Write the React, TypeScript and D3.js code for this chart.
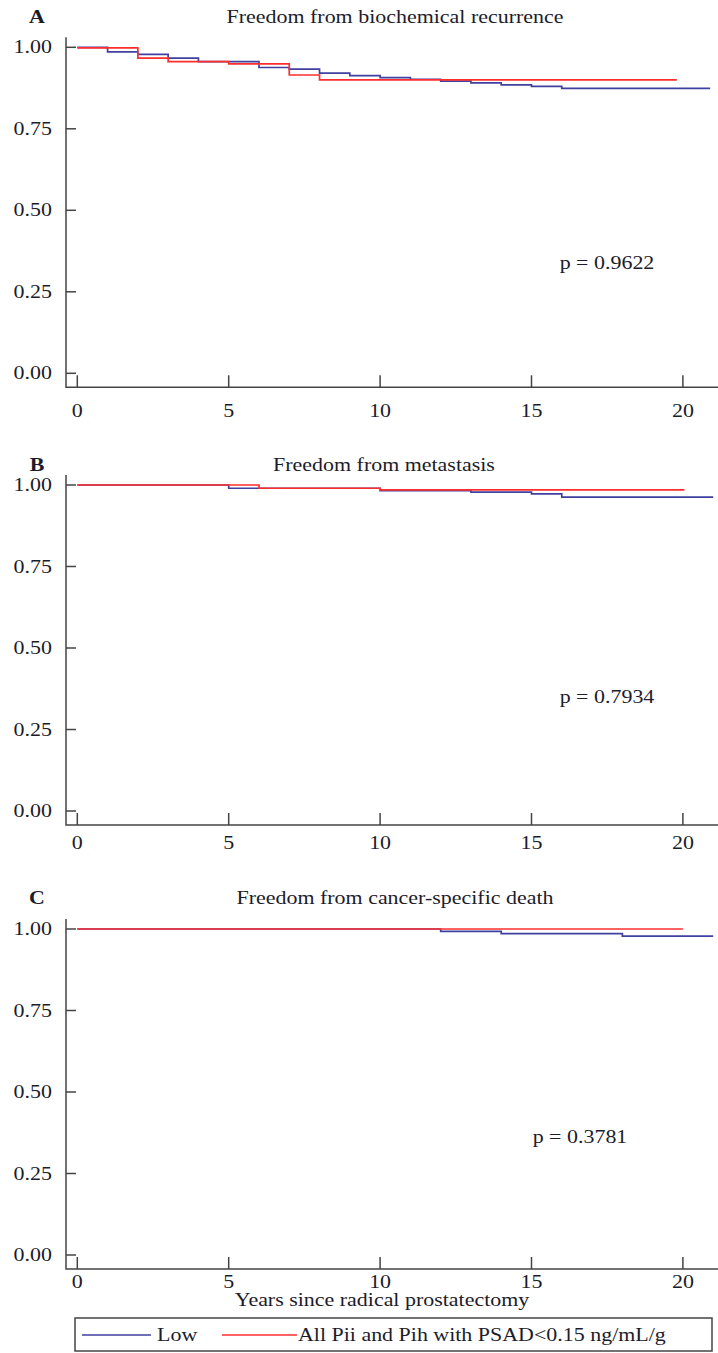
import React from "react";
import * as d3 from "d3";

const xTickValues = [0, 5, 10, 15, 20];
const yTickValues = [0, 0.25, 0.5, 0.75, 1];
const yTickLabels = ["0.00", "0.25", "0.50", "0.75", "1.00"];

// Panel A: biochemical recurrence
const bcrLowTimes = [0, 1, 2, 3, 4, 6, 7, 8, 9, 10, 11, 12, 13, 14, 15, 16, 20.9];
const bcrLowSurv = [1, 0.986, 0.978, 0.967, 0.956, 0.938, 0.933, 0.921, 0.913, 0.907, 0.902, 0.896, 0.891, 0.885, 0.88, 0.874, 0.874];
const bcrPiiTimes = [0, 2, 3, 5, 7, 8, 19.8];
const bcrPiiSurv = [0.998, 0.967, 0.956, 0.949, 0.915, 0.9, 0.9];

// Panel B: metastasis
const metLowTimes = [0, 5, 10, 13, 15, 16, 21.0];
const metLowSurv = [1, 0.99, 0.983, 0.978, 0.973, 0.963, 0.963];
const metPiiTimes = [0, 6, 10, 20.05];
const metPiiSurv = [1, 0.99, 0.985, 0.985];

// Panel C: cancer-specific death
const cssLowTimes = [0, 12, 14, 18, 21.0];
const cssLowSurv = [1, 0.993, 0.986, 0.978, 0.978];
const cssPiiTimes = [0, 20];
const cssPiiSurv = [1, 1];

const titles = ["Freedom from biochemical recurrence", "Freedom from metastasis", "Freedom from cancer-specific death"];
const letters = ["A", "B", "C"];
const pValues = ["p = 0.9622", "p = 0.7934", "p = 0.3781"];
const legendLabels = ["Low", "All Pii and Pih with PSAD<0.15 ng/mL/g"];

const BLUE = "#4040a0";
const RED = "#ff2e2e";
const AXIS = "#444";
const TEXT = "#1c1c2a";
const FONT = "'Liberation Serif', 'DejaVu Serif', serif";
const FS = 18;
const SX = 1.22;

const layout = [
  { top: 47.3, bottom: 373.3, titleY: 17, titleX: 395, pX: 607, pY: 263, xlabY: 411 },
  { top: 485, bottom: 811, titleY: 465, titleX: 384, pX: 607, pY: 697, xlabY: 843 },
  { top: 929, bottom: 1255, titleY: 898, titleX: 395, pX: 580, pY: 1137, xlabY: 1282 },
];

const seriesData = [
  [
    { t: bcrLowTimes, s: bcrLowSurv, c: BLUE },
    { t: bcrPiiTimes, s: bcrPiiSurv, c: RED },
  ],
  [
    { t: metLowTimes, s: metLowSurv, c: BLUE },
    { t: metPiiTimes, s: metPiiSurv, c: RED },
  ],
  [
    { t: cssLowTimes, s: cssLowSurv, c: BLUE },
    { t: cssPiiTimes, s: cssPiiSurv, c: RED },
  ],
];

const x = d3.scaleLinear().domain([0, 20]).range([77.3, 682.9]);
const axisLeft = 66;
const axisRight = 718;

function T({ x, y, anchor = "start", bold = false, children }: { x: number; y: number; anchor?: string; bold?: boolean; children: React.ReactNode }) {
  return (
    <text
      transform={`translate(${x},${y}) scale(${SX},1)`}
      fontFamily={FONT}
      fontSize={FS}
      fontWeight={bold ? "bold" : "normal"}
      fill={TEXT}
      textAnchor={anchor}
    >
      {children}
    </text>
  );
}

function Panel({ idx }: { idx: number }) {
  const L = layout[idx];
  const y = d3.scaleLinear().domain([0, 1]).range([L.bottom, L.top]);
  const axisY = L.bottom + 14;
  const axisTop = L.top - 10;
  const line = d3
    .line<[number, number]>()
    .x((d) => x(d[0]))
    .y((d) => y(d[1]))
    .curve(d3.curveStepAfter);
  return (
    <g>
      <T x={37} y={L.titleY + 6} anchor="middle" bold>
        {letters[idx]}
      </T>
      <T x={L.titleX} y={L.titleY + 6} anchor="middle">
        {titles[idx]}
      </T>
      <path d={`M${axisLeft},${axisTop}V${axisY}H${axisRight}`} fill="none" stroke={AXIS} strokeWidth={1.5} />
      {yTickValues.map((v, i) => (
        <g key={"y" + i}>
          <line x1={axisLeft} x2={axisLeft + 10} y1={y(v)} y2={y(v)} stroke={AXIS} strokeWidth={1.5} />
          <T x={52} y={y(v) + 6} anchor="end">
            {yTickLabels[i]}
          </T>
        </g>
      ))}
      {xTickValues.map((v) => (
        <g key={"x" + v}>
          <line x1={x(v)} x2={x(v)} y1={axisY} y2={axisY - 12} stroke={AXIS} strokeWidth={1.5} />
          <T x={x(v)} y={L.xlabY + 6} anchor="middle">
            {v}
          </T>
        </g>
      ))}
      {seriesData[idx].map((sr, i) => {
        const pts: [number, number][] = sr.t.map((t, k) => [t, sr.s[k]]);
        return <path key={i} d={line(pts) || ""} fill="none" stroke={sr.c} strokeWidth={1.7} />;
      })}
      <T x={L.pX} y={L.pY + 6} anchor="middle">
        {pValues[idx]}
      </T>
    </g>
  );
}

export default function App() {
  return (
    <svg width={718} height={1353} style={{ position: "absolute", left: 0, top: 0, background: "#fff" }}>
      <rect x={0} y={0} width={718} height={1353} fill="#fff" />
      {[0, 1, 2].map((i) => (
        <Panel key={i} idx={i} />
      ))}
      <T x={382} y={1306} anchor="middle">
        Years since radical prostatectomy
      </T>
      <rect x={75} y={1318} width={637} height={33} fill="none" stroke={AXIS} strokeWidth={1.5} />
      <line x1={82} x2={151} y1={1335} y2={1335} stroke={BLUE} strokeWidth={1.7} />
      <T x={157} y={1341}>
        {legendLabels[0]}
      </T>
      <line x1={222} x2={297} y1={1335} y2={1335} stroke={RED} strokeWidth={1.7} />
      <T x={298} y={1341}>
        {legendLabels[1]}
      </T>
    </svg>
  );
}
